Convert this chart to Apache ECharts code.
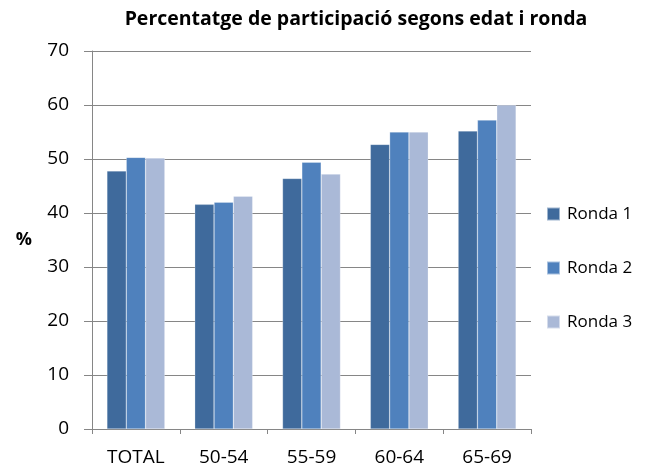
<!DOCTYPE html>
<html>
<head>
<meta charset="utf-8">
<script src="https://cdn.jsdelivr.net/npm/echarts@6/dist/echarts.min.js"></script>
<style>
  html, body { margin: 0; padding: 0; background: #fff; }
  #chart { width: 660px; height: 470px; }
</style>
</head>
<body>
<div id="chart"></div>
<script>
const categories = ['TOTAL', '50-54', '55-59', '60-64', '65-69'];
const ronda1 = [47.8, 41.6, 46.4, 52.7, 55.2];
const ronda2 = [50.3, 42.0, 49.4, 55.0, 57.2];
const ronda3 = [50.2, 43.1, 47.2, 55.0, 60.0];
const seriesNames = ['Ronda 1', 'Ronda 2', 'Ronda 3'];

const font = '"Open Sans", sans-serif';
const colors = ['#3F6A9C', '#4F81BD', '#AAB9D7'];

const chart = echarts.init(document.getElementById('chart'));

chart.setOption({
    animation: false,
    color: colors,
    title: {
        text: 'Percentatge de participació segons edat i ronda',
        left: 351,
        textAlign: 'center',
        top: 4,
        textStyle: { fontFamily: font, fontSize: 19.5, fontWeight: 'bold', color: '#000' }
    },
    legend: {
        orient: 'vertical',
        left: 546,
        top: 203,
        padding: 0,
        itemWidth: 13,
        itemHeight: 13,
        itemGap: 32,
        icon: 'rect',
        textStyle: { fontFamily: font, fontSize: 17, color: '#000', lineHeight: 22, padding: [0, 0, 0, 2] },
        data: seriesNames
    },
    grid: { left: 92, right: 129, top: 51, bottom: 41 },
    xAxis: {
        type: 'category',
        data: categories,
        axisLine: { lineStyle: { color: '#868686', width: 1 } },
        axisTick: { show: true, alignWithLabel: false, length: 5, lineStyle: { color: '#868686' } },
        axisLabel: { fontFamily: font, fontSize: 19, color: '#000', margin: 19 }
    },
    yAxis: {
        type: 'value',
        min: 0,
        max: 70,
        interval: 10,
        name: '%',
        nameLocation: 'middle',
        nameGap: 60,
        nameRotate: 0,
        nameTextStyle: { fontFamily: font, fontSize: 18, fontWeight: 'bold', color: '#000' },
        axisLine: { show: true, lineStyle: { color: '#868686', width: 1 } },
        axisTick: { show: true, length: 8, lineStyle: { color: '#868686' } },
        axisLabel: { fontFamily: font, fontSize: 19, color: '#000', margin: 23 },
        splitLine: { lineStyle: { color: '#868686', width: 1 } }
    },
    series: [ronda1, ronda2, ronda3].map((d, i) => ({
        name: seriesNames[i],
        type: 'bar',
        data: d,
        barGap: '0%',
        barCategoryGap: '34%',
        itemStyle: { borderColor: 'rgba(255,255,255,0.5)', borderWidth: 0.5 }
    }))
});
</script>
</body>
</html>
